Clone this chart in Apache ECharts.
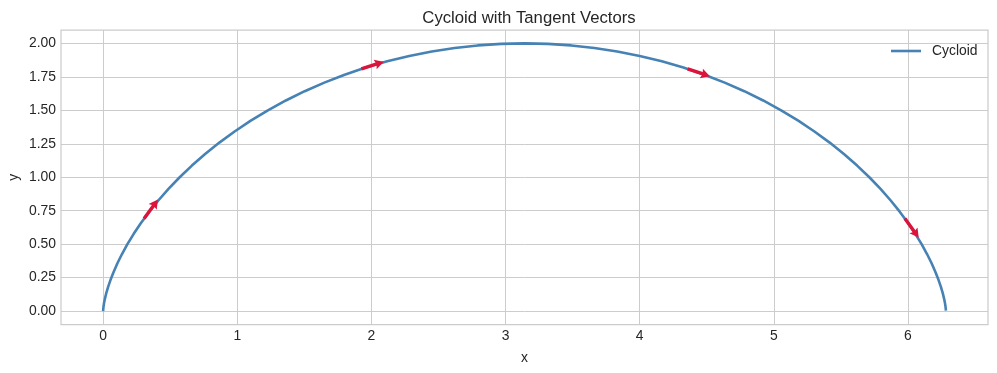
<!DOCTYPE html>
<html>
<head>
<meta charset="utf-8">
<script src="https://cdn.jsdelivr.net/npm/echarts@6/dist/echarts.min.js"></script>
<style>
html,body{margin:0;padding:0;background:#fff;}
#chart{width:997px;height:373px;}
</style>
</head>
<body>
<div id="chart"></div>
<script>
// Cycloid points
var cycloidX = [0, 0.00011, 0.00088, 0.00298, 0.00705, 0.01371, 0.02360, 0.03729, 0.05534, 0.07829,
  0.10662, 0.14078, 0.18117, 0.22815, 0.28204, 0.34307, 0.41145, 0.48734, 0.57080, 0.66187,
  0.76052, 0.86667, 0.98017, 1.10082, 1.22837, 1.36251, 1.50289, 1.64908, 1.80067, 1.95715,
  2.11799, 2.28264, 2.45051, 2.62097, 2.79341, 2.96717, 3.14159, 3.31602, 3.48978, 3.66221,
  3.83268, 4.00054, 4.16519, 4.32604, 4.48251, 4.63410, 4.78030, 4.92067, 5.05482, 5.18237,
  5.30301, 5.41652, 5.52267, 5.62131, 5.71239, 5.79585, 5.87173, 5.94012, 6.00114, 6.05503,
  6.10202, 6.14240, 6.17656, 6.20490, 6.22784, 6.24590, 6.25959, 6.26947, 6.27614, 6.28021,
  6.28230, 6.28308, 6.28319];
var cycloidY = [0, 0.00381, 0.01519, 0.03407, 0.06031, 0.09369, 0.13397, 0.18085, 0.23396, 0.29289,
  0.35721, 0.42642, 0.5, 0.57738, 0.65798, 0.74118, 0.82635, 0.91284, 1, 1.08716,
  1.17365, 1.25882, 1.34202, 1.42262, 1.5, 1.57358, 1.64279, 1.70711, 1.76604, 1.81915,
  1.86603, 1.90631, 1.93969, 1.96593, 1.98481, 1.99619, 2, 1.99619, 1.98481, 1.96593,
  1.93969, 1.90631, 1.86603, 1.81915, 1.76604, 1.70711, 1.64279, 1.57358, 1.5, 1.42262,
  1.34202, 1.25882, 1.17365, 1.08716, 1, 0.91284, 0.82635, 0.74118, 0.65798, 0.57738,
  0.5, 0.42642, 0.35721, 0.29289, 0.23396, 0.18085, 0.13397, 0.09369, 0.06031, 0.03407,
  0.01519, 0.00381, 0];

// Tangent vectors: tail position and components
var arrowX  = [0.3056, 1.9255, 4.3577, 5.9776];
var arrowY  = [0.691, 1.809, 1.809, 0.691];
var arrowDX = [0.103, 0.166, 0.166, 0.103];
var arrowDY = [0.142, 0.054, -0.054, -0.142];

var xTicks = [0, 1, 2, 3, 4, 5, 6];
var yTicks = [0, 0.25, 0.5, 0.75, 1, 1.25, 1.5, 1.75, 2];

var curveData = cycloidX.map(function (x, i) { return [x, cycloidY[i]]; });
var arrowData = arrowX.map(function (x, i) { return [x, arrowY[i], arrowDX[i], arrowDY[i]]; });

var FONT = '"Liberation Sans", Arial, sans-serif';
var chart = echarts.init(document.getElementById('chart'), null, {renderer: 'canvas'});

chart.setOption({
  animation: false,
  backgroundColor: '#ffffff',
  title: {
    text: 'Cycloid with Tangent Vectors',
    left: 524, top: 5, textAlign: 'center',
    textStyle: {fontFamily: FONT, fontSize: 16.7, fontWeight: 'normal', color: '#262626'}
  },
  legend: {
    left: 886, top: 39,
    itemWidth: 30, itemHeight: 2.6,
    icon: 'rect',
    data: [{name: 'Cycloid', icon: 'rect'}],
    textStyle: {fontFamily: FONT, fontSize: 13.9, color: '#262626', padding: [0, 0, 0, 6]}
  },
  grid: {
    left: 61, right: 9, top: 30, bottom: 48.5,
    outerBoundsMode: 'none', containLabel: false,
    show: true, borderColor: '#cccccc', borderWidth: 1.25, backgroundColor: 'transparent'
  },
  xAxis: {
    type: 'value', min: -0.314, max: 6.597,
    name: 'x', nameLocation: 'middle', nameGap: 27, nameMoveOverlap: false,
    nameTextStyle: {fontFamily: FONT, fontSize: 13.9, color: '#262626'},
    axisLine: {show: false},
    axisTick: {show: false, customValues: xTicks},
    axisLabel: {customValues: xTicks, fontFamily: FONT, fontSize: 13.9, color: '#262626', margin: 5},
    splitLine: {show: true, lineStyle: {color: '#cccccc', width: 1}}
  },
  yAxis: {
    type: 'value', min: -0.1, max: 2.1,
    name: 'y', nameLocation: 'middle', nameGap: 40, nameMoveOverlap: false,
    nameTextStyle: {fontFamily: FONT, fontSize: 13.9, color: '#262626'},
    axisLine: {show: false},
    axisTick: {show: false, customValues: yTicks},
    axisLabel: {customValues: yTicks, fontFamily: FONT, fontSize: 13.9, color: '#262626', margin: 5,
      formatter: function (v) { return v.toFixed(2); }},
    splitLine: {show: true, lineStyle: {color: '#cccccc', width: 1}}
  },
  series: [
    {
      name: 'Cycloid', type: 'line', data: curveData,
      showSymbol: false, symbol: 'none', smooth: false,
      lineStyle: {color: '#4682b4', width: 2.6},
      itemStyle: {color: '#4682b4'},
      z: 2
    },
    {
      name: 'Tangents', type: 'custom', data: arrowData, z: 5,
      renderItem: function (params, api) {
        var x = api.value(0), y = api.value(1), dx = api.value(2), dy = api.value(3);
        var p0 = api.coord([x, y]);
        var p1 = api.coord([x + dx, y + dy]);
        var vx = p1[0] - p0[0], vy = p1[1] - p0[1];
        var L = Math.sqrt(vx * vx + vy * vy);
        var ux = vx / L, uy = vy / L;
        var nx = -uy, ny = ux;
        var sw = 1.7, hw = 5.0, hl = 9, hal = 8;
        function pt(a, b) { return [p0[0] + ux * a + nx * b, p0[1] + uy * a + ny * b]; }
        var pts = [
          pt(0, -sw), pt(L - hal, -sw), pt(L - hl, -hw), pt(L, 0),
          pt(L - hl, hw), pt(L - hal, sw), pt(0, sw)
        ];
        return {type: 'polygon', shape: {points: pts}, style: {fill: '#dc143c', stroke: null}};
      }
    }
  ]
});
</script>
</body>
</html>
